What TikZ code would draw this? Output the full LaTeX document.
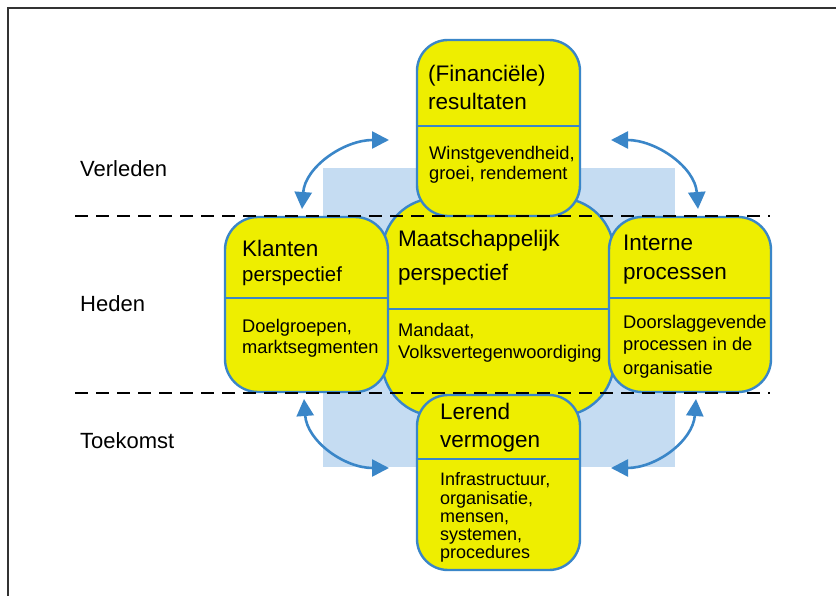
\documentclass[tikz,border=0pt]{standalone}
\usepackage{fontspec}
\setmainfont{Liberation Sans}
\usetikzlibrary{arrows.meta}

\definecolor{boxfill}{RGB}{238,238,0}
\definecolor{edgeblue}{RGB}{58,134,200}
\definecolor{bandblue}{RGB}{197,220,242}
\definecolor{framegray}{RGB}{50,50,50}

\tikzset{
  panel/.style={draw=edgeblue, fill=boxfill, line width=2.4pt, inner sep=0pt},
  divider/.style={draw=edgeblue, line width=2.4pt},
  head/.style={anchor=base west, inner sep=0pt, font=\fontsize{22.5}{27}\selectfont},
  subhead/.style={anchor=base west, inner sep=0pt, font=\fontsize{20.4}{25}\selectfont},
  body/.style={anchor=base west, inner sep=0pt, font=\fontsize{18.3}{22}\selectfont},
  smallbody/.style={anchor=base west, inner sep=0pt, font=\fontsize{18}{21}\selectfont},
  era/.style={anchor=base west, inner sep=0pt, font=\fontsize{22}{26}\selectfont},
  timeline/.style={draw=black, line width=2pt, dash pattern=on 13pt off 8pt},
  cycle arrow/.style={draw=edgeblue, line width=2.6pt,
    {Triangle[length=17pt,width=17pt]}-{Triangle[length=17pt,width=17pt]}},
  frameline/.style={draw=framegray, line width=2pt}
}

\begin{document}
\begin{tikzpicture}[x=1pt,y=-1pt]
\useasboundingbox (0,0) rectangle (836,596);

% light blue band behind the perspectives
\fill[bandblue] (323,168) rectangle (675,467);

% central perspective
\node[panel, minimum width=232pt, minimum height=218pt, rounded corners=55pt] (maat) at (498,307) {};
\draw[divider] (maat.west |- 0,309) -- (maat.east |- 0,309);

% top: financial results
\node[panel, minimum width=163pt, minimum height=176pt, rounded corners=31pt] (fin) at (498.5,128) {};
\draw[divider] (fin.west |- 0,126) -- (fin.east |- 0,126);

% left: customers
\node[panel, minimum width=163pt, minimum height=175pt, rounded corners=33pt] (klant) at (306.5,304.5) {};
\draw[divider] (klant.west |- 0,298) -- (klant.east |- 0,298);

% right: internal processes
\node[panel, minimum width=162pt, minimum height=175pt, rounded corners=33pt] (intern) at (690,304.5) {};
\draw[divider] (intern.west |- 0,298) -- (intern.east |- 0,298);

% bottom: learning capacity
\node[panel, minimum width=163pt, minimum height=175pt, rounded corners=31pt] (leer) at (498.5,482.5) {};
\draw[divider] (leer.west |- 0,459) -- (leer.east |- 0,459);

% texts
\node[head] (finA) at (428,82) {(Financiële)};
\node[head] (finB) at (428,110) {resultaten};
\node[body] (finC) at (429,160) {Winstgevendheid,};
\node[body] (finD) at (429,180) {groei, rendement};

\node[head] (maatA) at (398,247) {Maatschappelijk};
\node[head] (maatB) at (398,281) {perspectief};
\node[body] (maatC) at (398,337) {Mandaat,};
\node[body] (maatD) at (398,358) {Volksvertegenwoordiging};

\node[head] (klantA) at (242,257) {Klanten};
\node[subhead] (klantB) at (242,282) {perspectief};
\node[body] (klantC) at (242,332) {Doelgroepen,};
\node[body] (klantD) at (242,353) {marktsegmenten};

\node[head] (internA) at (623,251) {Interne};
\node[head] (internB) at (623,280) {processen};
\node[body] (internC) at (623,328) {Doorslaggevende};
\node[body] (internD) at (623,351) {processen in de};
\node[body] (internE) at (623,374) {organisatie};

\node[head] (leerA) at (440,419) {Lerend};
\node[head] (leerB) at (440,447) {vermogen};
\node[smallbody] (leerC) at (440,485) {Infrastructuur,};
\node[smallbody] (leerD) at (440,504) {organisatie,};
\node[smallbody] (leerE) at (440,522) {mensen,};
\node[smallbody] (leerF) at (440,540) {systemen,};
\node[smallbody] (leerG) at (440,558) {procedures};

% time periods
\node[era] (past) at (80,177) {Verleden};
\node[era] (now) at (80,312) {Heden};
\node[era] (future) at (80,448) {Toekomst};

% period boundaries
\coordinate (lineAw) at (75,216);
\coordinate (lineAe) at (770,216);
\coordinate (lineBw) at (75,393);
\coordinate (lineBe) at (770,393);
\draw[timeline] (lineAw) -- (lineAe);
\draw[timeline] (lineBw) -- (lineBe);

% cycle arrows between neighbouring perspectives
\coordinate (tlA) at (302,209);
\coordinate (tlB) at (389,140);
\coordinate (trA) at (698,209);
\coordinate (trB) at (611,140);
\coordinate (blA) at (304,399);
\coordinate (blB) at (389,468);
\coordinate (brA) at (696,399);
\coordinate (brB) at (611,468);
\draw[cycle arrow] (tlA) .. controls +(3,-42) and +(-45,0) .. (tlB);
\draw[cycle arrow] (trA) .. controls +(-3,-42) and +(45,0) .. (trB);
\draw[cycle arrow] (blA) .. controls +(3,42) and +(-45,0) .. (blB);
\draw[cycle arrow] (brA) .. controls +(-3,42) and +(45,0) .. (brB);

% outer frame
\coordinate (frameBL) at (8,600);
\coordinate (frameTL) at (8,8);
\coordinate (frameTR) at (840,8);
\draw[frameline] (frameBL) -- (frameTL) -- (frameTR);
\end{tikzpicture}
\end{document}
